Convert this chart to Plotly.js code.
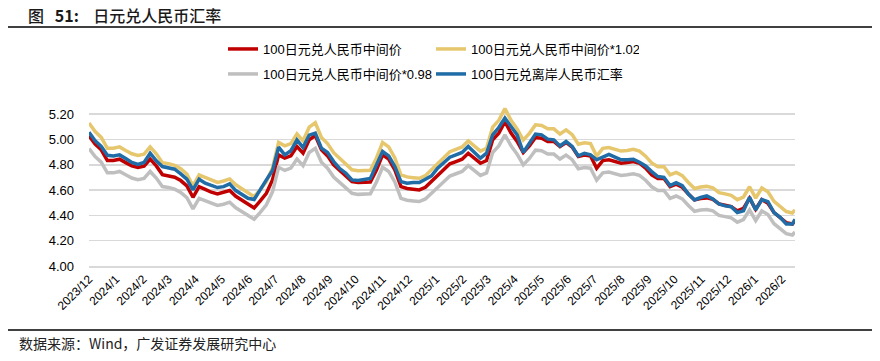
<!DOCTYPE html>
<html>
<head>
<meta charset="utf-8">
<script src="https://cdn.plot.ly/plotly-3.0.1.min.js"></script>
<style>html,body{margin:0;padding:0;background:#fff;}#chart{width:880px;height:361px;}</style>
</head>
<body>
<div id="chart"></div>
<script>
// Weekly observation dates
const dates = [
"2023-12-01","2023-12-08","2023-12-15","2023-12-22","2023-12-29",
"2024-01-05","2024-01-12","2024-01-19","2024-01-26","2024-02-02","2024-02-09","2024-02-16","2024-02-23",
"2024-03-01","2024-03-08","2024-03-15","2024-03-22","2024-03-29","2024-04-05","2024-04-12","2024-04-19","2024-04-26",
"2024-05-03","2024-05-10","2024-05-17","2024-05-24","2024-05-31","2024-06-07","2024-06-14","2024-06-21","2024-06-28",
"2024-07-05","2024-07-12","2024-07-19","2024-07-26","2024-08-02","2024-08-09","2024-08-16","2024-08-23","2024-08-30",
"2024-09-06","2024-09-13","2024-09-20","2024-09-27","2024-10-04","2024-10-11","2024-10-18","2024-10-25",
"2024-11-01","2024-11-08","2024-11-15","2024-11-22","2024-11-29","2024-12-06","2024-12-13","2024-12-20","2024-12-27",
"2025-01-03","2025-01-10","2025-01-17","2025-01-24","2025-01-31","2025-02-07","2025-02-14","2025-02-21","2025-02-28",
"2025-03-07","2025-03-14","2025-03-21","2025-03-28","2025-04-04","2025-04-11","2025-04-18","2025-04-25",
"2025-05-02","2025-05-09","2025-05-16","2025-05-23","2025-05-30","2025-06-06","2025-06-13","2025-06-20","2025-06-27",
"2025-07-04","2025-07-11","2025-07-18","2025-07-25","2025-08-01","2025-08-08","2025-08-15","2025-08-22","2025-08-29",
"2025-09-05","2025-09-12","2025-09-19","2025-09-26","2025-10-03","2025-10-10","2025-10-17","2025-10-24","2025-10-31",
"2025-11-07","2025-11-14","2025-11-21","2025-11-28","2025-12-05","2025-12-12","2025-12-19","2025-12-26",
"2026-01-02","2026-01-09","2026-01-16","2026-01-23","2026-01-30","2026-02-06","2026-02-13","2026-02-16"
];

// 100日元兑人民币中间价
const midRate = [
5.028,4.963,4.918,4.833,4.833,4.844,4.817,4.791,4.778,4.788,4.844,4.791,4.722,
4.715,4.701,4.675,4.633,4.543,4.627,4.606,4.583,4.569,4.580,4.596,4.551,4.522,4.488,4.459,4.514,4.575,4.680,
4.878,4.852,4.870,4.944,4.891,4.997,5.031,4.918,4.870,4.799,4.754,4.707,4.667,4.659,4.659,4.664,4.759,
4.878,4.844,4.759,4.627,4.612,4.606,4.601,4.622,4.667,4.712,4.754,4.807,4.825,4.844,4.891,4.849,4.812,4.833,
4.997,5.050,5.140,5.050,4.984,4.897,4.949,5.015,5.010,4.984,4.984,4.944,4.976,4.939,4.865,4.876,4.870,
4.773,4.833,4.839,4.825,4.812,4.817,4.825,4.812,4.773,4.720,4.691,4.691,4.627,4.646,4.622,4.569,4.522,4.533,
4.538,4.527,4.490,4.480,4.469,4.435,4.456,4.535,4.448,4.525,4.496,4.422,4.385,4.343,4.332,4.356
];

// 100日元兑人民币中间价*1.02
const midRateUp = [
5.129,5.062,5.016,4.930,4.930,4.941,4.913,4.887,4.874,4.884,4.941,4.887,4.816,
4.809,4.795,4.769,4.726,4.634,4.720,4.698,4.675,4.660,4.672,4.688,4.642,4.612,4.578,4.548,4.604,4.667,4.774,
4.976,4.949,4.967,5.043,4.989,5.097,5.132,5.016,4.967,4.895,4.849,4.801,4.760,4.752,4.752,4.757,4.854,
4.976,4.941,4.854,4.720,4.704,4.698,4.693,4.714,4.760,4.806,4.849,4.903,4.922,4.941,4.989,4.946,4.908,4.930,
5.097,5.151,5.243,5.151,5.084,4.995,5.048,5.115,5.110,5.084,5.084,5.043,5.076,5.038,4.962,4.974,4.967,
4.868,4.930,4.936,4.922,4.908,4.913,4.922,4.908,4.868,4.814,4.785,4.785,4.720,4.739,4.714,4.660,4.612,4.624,
4.629,4.618,4.580,4.570,4.558,4.524,4.545,4.626,4.537,4.616,4.586,4.510,4.473,4.430,4.419,4.443
];

// 100日元兑人民币中间价*0.98
const midRateDown = [
4.927,4.864,4.820,4.736,4.736,4.747,4.721,4.695,4.682,4.692,4.747,4.695,4.628,
4.621,4.607,4.582,4.540,4.452,4.534,4.514,4.491,4.478,4.488,4.504,4.460,4.432,4.398,4.370,4.424,4.484,4.586,
4.780,4.755,4.773,4.845,4.793,4.897,4.930,4.820,4.773,4.703,4.659,4.613,4.574,4.566,4.566,4.571,4.664,
4.780,4.747,4.664,4.534,4.520,4.514,4.509,4.530,4.574,4.618,4.659,4.711,4.729,4.747,4.793,4.752,4.716,4.736,
4.897,4.949,5.037,4.949,4.884,4.799,4.850,4.915,4.910,4.884,4.884,4.845,4.876,4.840,4.768,4.778,4.773,
4.678,4.736,4.742,4.729,4.716,4.721,4.729,4.716,4.678,4.626,4.597,4.597,4.534,4.553,4.530,4.478,4.432,4.442,
4.447,4.436,4.400,4.390,4.380,4.346,4.367,4.444,4.359,4.435,4.406,4.334,4.297,4.256,4.245,4.269
];

// 100日元兑离岸人民币汇率
const offshoreRate = [
5.057,4.989,4.944,4.875,4.870,4.878,4.849,4.818,4.802,4.818,4.891,4.831,4.786,
4.775,4.765,4.728,4.686,4.601,4.686,4.654,4.638,4.620,4.627,4.649,4.596,4.567,4.535,4.525,4.606,4.680,4.754,
4.939,4.878,4.910,4.997,4.936,5.034,5.050,4.931,4.897,4.825,4.770,4.733,4.680,4.675,4.686,4.691,4.799,
4.905,4.870,4.786,4.667,4.654,4.659,4.659,4.686,4.712,4.773,4.817,4.860,4.878,4.897,4.944,4.897,4.852,4.891,
5.036,5.094,5.168,5.102,5.036,4.897,4.965,5.042,5.036,5.002,4.997,4.949,4.984,4.944,4.870,4.891,4.878,
4.839,4.860,4.881,4.860,4.839,4.839,4.844,4.820,4.791,4.746,4.707,4.701,4.635,4.659,4.635,4.569,4.522,4.541,
4.554,4.530,4.490,4.475,4.469,4.422,4.437,4.543,4.443,4.525,4.509,4.422,4.385,4.332,4.332,4.369
];

const seriesNames = ["100日元兑人民币中间价","100日元兑人民币中间价*1.02","100日元兑人民币中间价*0.98","100日元兑离岸人民币汇率"];
const monthTicks = ["2023-12-01","2024-01-01","2024-02-01","2024-03-01","2024-04-01","2024-05-01","2024-06-01","2024-07-01","2024-08-01","2024-09-01","2024-10-01","2024-11-01","2024-12-01",
"2025-01-01","2025-02-01","2025-03-01","2025-04-01","2025-05-01","2025-06-01","2025-07-01","2025-08-01","2025-09-01","2025-10-01","2025-11-01","2025-12-01","2026-01-01","2026-02-01"];
const yTicks = [4.0,4.2,4.4,4.6,4.8,5.0,5.2];

const FONT = "Liberation Sans, Arial, 'Noto Sans CJK SC', sans-serif";
const CJK = "'Noto Sans CJK SC', 'Liberation Sans', sans-serif";

const traces = [
  {x: dates, y: midRate, name: seriesNames[0], type: 'scatter', mode: 'lines', line: {color: '#C00000', width: 3.5}, legend: 'legend'},
  {x: dates, y: midRateUp, name: seriesNames[1], type: 'scatter', mode: 'lines', line: {color: '#E6C76E', width: 3.5}, legend: 'legend'},
  {x: dates, y: midRateDown, name: seriesNames[2], type: 'scatter', mode: 'lines', line: {color: '#BFBFBF', width: 3.5}, legend: 'legend2'},
  {x: dates, y: offshoreRate, name: seriesNames[3], type: 'scatter', mode: 'lines', line: {color: '#1F6CA6', width: 3.5}, legend: 'legend2'}
];

const L = 89, R = 795, T = 104, B = 266;
const px = v => (v - L) / (R - L);
const py = v => (B - v) / (B - T);

const layout = {
  width: 880, height: 361,
  margin: {l: L, r: 880 - R, t: T, b: 361 - B},
  paper_bgcolor: '#fff', plot_bgcolor: '#fff',
  font: {family: FONT, size: 13, color: '#000'},
  showlegend: true,
  xaxis: {
    type: 'date', range: ['2023-12-01', '2026-02-16'],
    tickvals: monthTicks, tickformat: '%Y/%-m', tickangle: -45,
    tickfont: {size: 12, family: FONT, color: '#000'},
    showgrid: false, showline: true, linecolor: '#D9D9D9', linewidth: 1.5,
    ticks: '', zeroline: false
  },
  yaxis: {
    range: [4.0, 5.28], tickvals: yTicks, tickformat: '.2f',
    tickfont: {size: 13, family: FONT, color: '#000'},
    showgrid: true, gridcolor: '#D9D9D9', gridwidth: 1.5,
    zeroline: false, showline: false, ticks: '', ticklabelstandoff: 14
  },
  legend: {
    orientation: 'h', x: px(223), y: py(49), xanchor: 'left', yanchor: 'middle',
    font: {size: 13, family: FONT, color: '#000'}, entrywidth: 163, traceorder: 'normal',
    bgcolor: 'rgba(0,0,0,0)', itemwidth: 30
  },
  legend2: {
    orientation: 'h', x: px(223), y: py(74), xanchor: 'left', yanchor: 'middle',
    font: {size: 13, family: FONT, color: '#000'}, entrywidth: 163, traceorder: 'normal',
    bgcolor: 'rgba(0,0,0,0)', itemwidth: 30
  },
  shapes: [
    {type: 'line', xref: 'paper', yref: 'paper', x0: px(8), x1: px(872), y0: py(27), y1: py(27), line: {color: '#000', width: 1.5}},
    {type: 'line', xref: 'paper', yref: 'paper', x0: px(8), x1: px(872), y0: py(330), y1: py(330), line: {color: '#000', width: 1.5}}
  ],
  annotations: [
    {xref: 'paper', yref: 'paper', x: px(26), y: py(15), xanchor: 'left', yanchor: 'middle', showarrow: false,
     text: '图&nbsp;&nbsp;&nbsp;<b>51:</b>&nbsp;&nbsp;&nbsp;&nbsp;日元兑人民币汇率', font: {family: CJK, size: 16, color: '#1a1a1a', weight: 500}},
    {xref: 'paper', yref: 'paper', x: px(17), y: py(343), xanchor: 'left', yanchor: 'middle', showarrow: false,
     text: '数据来源：Wind，广发证券发展研究中心', font: {family: CJK, size: 14, color: '#222'}}
  ]
};

Plotly.newPlot('chart', traces, layout, {displayModeBar: false, staticPlot: true});
</script>
</body>
</html>
